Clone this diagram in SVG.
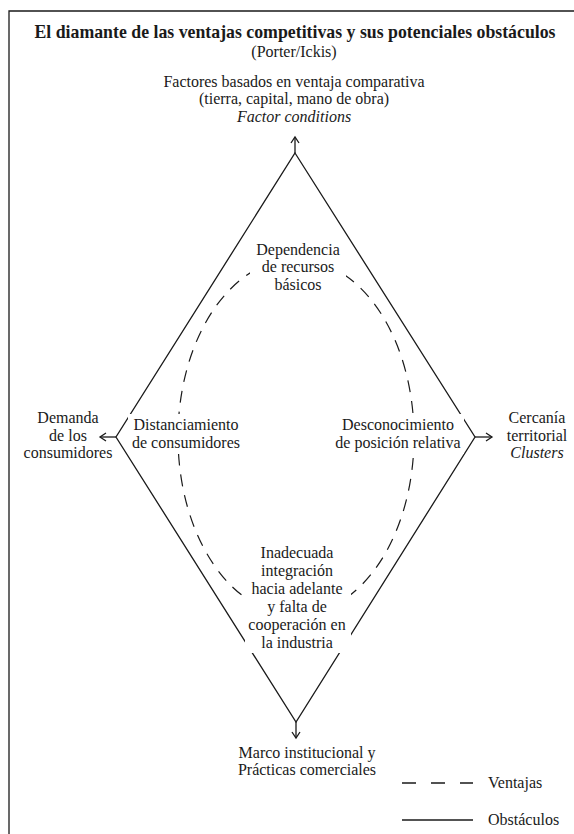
<svg xmlns="http://www.w3.org/2000/svg" width="574" height="834" viewBox="0 0 574 834">
<style>
text{font-family:"Liberation Serif","Times New Roman",serif;font-size:16px;fill:#1a1a1a}
.m{text-anchor:middle}
.b{font-weight:bold;font-size:17.8px}
.i{font-style:italic}
.ln{stroke:#1a1a1a;stroke-width:1.3;fill:none}
.ds{stroke:#1a1a1a;stroke-width:1.2;fill:none;stroke-dasharray:12 9}
</style>
<defs>
<marker id="ah" markerWidth="10" markerHeight="10" refX="7" refY="5" orient="auto" markerUnits="userSpaceOnUse">
<polyline points="1,1 7,5 1,9" fill="none" stroke="#1a1a1a" stroke-width="1.3"/>
</marker>
</defs>
<rect width="574" height="834" fill="#fff"/>
<path class="ln" d="M9,834 V11 H574" stroke="#333"/>
<g id="title">
<text class="m b" x="295" y="38">El diamante de las ventajas competitivas y sus potenciales obstáculos</text>
<text class="m" x="294" y="57">(Porter/Ickis)</text>
</g>
<g id="connectors">
<polygon class="ln" points="295,153 475,437 296,722 116,437"/>
<ellipse class="ds" cx="296" cy="437" rx="118" ry="178"/>
<line class="ln" x1="295" y1="153" x2="295" y2="137" marker-end="url(#ah)"/>
<line class="ln" x1="116" y1="437" x2="100" y2="437" marker-end="url(#ah)"/>
<line class="ln" x1="475" y1="437" x2="492" y2="437" marker-end="url(#ah)"/>
<line class="ln" x1="296" y1="722" x2="296" y2="738" marker-end="url(#ah)"/>
</g>
<g id="node-top">
<text class="m" x="294" y="87">Factores basados en ventaja comparativa</text>
<text class="m" x="294" y="104">(tierra, capital, mano de obra)</text>
<text class="m i" x="294" y="122">Factor conditions</text>
</g>
<g id="node-left">
<text class="m" x="68" y="423">Demanda</text>
<text class="m" x="68" y="441">de los</text>
<text class="m" x="68" y="458">consumidores</text>
</g>
<g id="node-right">
<text class="m" x="537" y="423">Cercanía</text>
<text class="m" x="537" y="441">territorial</text>
<text class="m i" x="537" y="458">Clusters</text>
</g>
<g id="node-bottom">
<text class="m" x="307" y="758">Marco institucional y</text>
<text class="m" x="307" y="775">Prácticas comerciales</text>
</g>
<g id="obst-top">
<rect x="250" y="240" width="96" height="56" fill="#fff"/>
<text class="m" x="298" y="255">Dependencia</text>
<text class="m" x="298" y="272">de recursos</text>
<text class="m" x="298" y="290">básicos</text>
</g>
<g id="obst-left">
<rect x="128" y="414" width="118" height="40" fill="#fff"/>
<text class="m" x="186" y="430">Distanciamiento</text>
<text class="m" x="186" y="448">de consumidores</text>
</g>
<g id="obst-right">
<rect x="332" y="414" width="132" height="40" fill="#fff"/>
<text class="m" x="398" y="430">Desconocimiento</text>
<text class="m" x="398" y="448">de posición relativa</text>
</g>
<g id="obst-bottom">
<rect x="245" y="541" width="106" height="112" fill="#fff"/>
<text class="m" x="297" y="558">Inadecuada</text>
<text class="m" x="297" y="576">integración</text>
<text class="m" x="297" y="594">hacia adelante</text>
<text class="m" x="297" y="612">y falta de</text>
<text class="m" x="297" y="630">cooperación en</text>
<text class="m" x="297" y="648">la industria</text>
</g>
<g id="legend">
<line class="ln" x1="402" y1="783" x2="473" y2="783" stroke-dasharray="14 15"/>
<text x="488" y="788">Ventajas</text>
<line class="ln" x1="402" y1="820" x2="473" y2="820"/>
<text x="488" y="825">Obstáculos</text>
</g>
</svg>
